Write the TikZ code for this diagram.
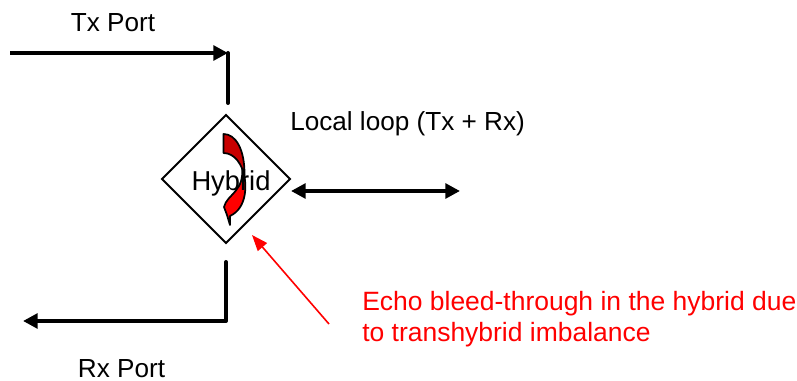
\documentclass[tikz,border=0pt]{standalone}
\usepackage{fontspec}
\setmainfont{Liberation Sans}
\usetikzlibrary{arrows.meta}
\tikzset{
  wire/.style={draw=black,line width=3pt},
  stub/.style={wire,line cap=round},
  bigtip/.style={-{Triangle[length=11pt,width=11pt]}},
  lab/.style={font=\fontsize{19.6pt}{23pt}\selectfont,inner sep=0pt},
  swoosh/.style={draw=black,line width=1.3pt,line join=round}
}
\begin{document}
\begin{tikzpicture}[x=0.75pt,y=-0.75pt]
\useasboundingbox (0,0) rectangle (797,381);
\coordinate (txs) at (10,53);
\coordinate (txc) at (228,53);
\coordinate (txe) at (228,103);
\coordinate (rxs) at (226,262);
\coordinate (rxc) at (226,321);
\coordinate (rxe) at (23,321);
\coordinate (ll) at (291,191);
\coordinate (lr) at (460,191);
\coordinate (et) at (252,235);
\coordinate (es) at (329,324);
\node[lab] (tx) at (113,22.5) {Tx Port};
\node[lab] (rx) at (121.5,369) {Rx Port};
\node[lab,anchor=west] (loop) at (290,124) {Local loop (Tx + Rx)};
\node[lab,anchor=west,text=red,align=left,font=\fontsize{19.85pt}{23.3pt}\selectfont] (echo) at (362,319) {Echo bleed-through in the hybrid due\\to transhybrid imbalance};
\draw[black,line width=1.5pt,line join=miter] (226,115) -- (290,179) -- (226,243) -- (162,179) -- cycle;
% swoosh
\draw[swoosh,fill=red] (242,166) .. controls (248,185) and (247,208) .. (230,216) -- (230,225) -- (227,215) -- (224,207) .. controls (227,194) and (245,192) .. (242,166) -- cycle;
\draw[swoosh,fill={rgb,255:red,200;green,0;blue,0}] (223.5,134) .. controls (236,134) and (245,150) .. (244.5,176) .. controls (242,165) and (235,153) .. (223.5,153) -- cycle;
\node[lab] (hy) at (231,183.5) {\fontsize{20.5pt}{23pt}\selectfont Hybrid};
\draw[wire,bigtip] (txs) -- (txc);
\draw[stub] (txc) -- (txe);
\draw[stub] (rxs) -- (rxc);
\draw[wire,bigtip] (rxc) -- (rxe);
\draw[wire,{Triangle[length=11pt,width=11pt]}-{Triangle[length=11pt,width=11pt]}] (ll) -- (lr);
\draw[red,line width=1.2pt,-{Triangle[length=12pt,width=9pt]}] (es) -- (et);
\end{tikzpicture}
\end{document}
